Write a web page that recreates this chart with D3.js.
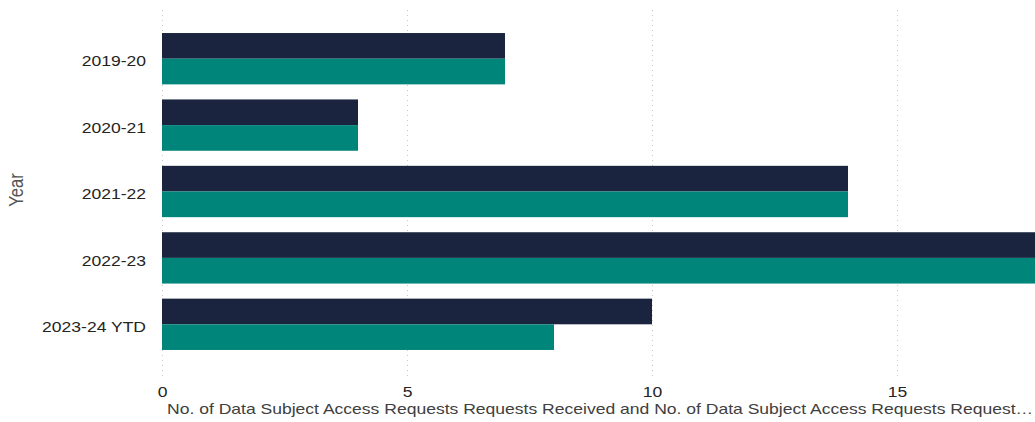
<!DOCTYPE html>
<html>
<head>
<meta charset="utf-8">
<script src="https://cdn.jsdelivr.net/npm/d3@7"></script>
<style>
  html, body { margin: 0; padding: 0; background: #ffffff; }
  svg { display: block; font-family: "Liberation Sans", Arial, sans-serif; }
</style>
</head>
<body>
<svg id="chart" width="1035" height="422"></svg>
<script>
// Financial years shown on the category axis
const years = ["2019-20", "2020-21", "2021-22", "2022-23", "2023-24 YTD"];

// Series values per year
const received = [7, 4, 14, 18, 10];
const completed = [7, 4, 14, 18, 8];

const seriesNames = [
  "No. of Data Subject Access Requests Requests Received",
  "No. of Data Subject Access Requests Requests Completed"
];
const seriesColors = ["#1a243e", "#00857a"];

// Tick values along the value axis
const xTicks = [0, 5, 10, 15];

const axisTitleX = "No. of Data Subject Access Requests Requests Received and No. of Data Subject Access Requests Request\u2026";
const axisTitleY = "Year";

const W = 1035, H = 422;
const plotLeft = 162, plotRight = 1035, gridTop = 10, gridBottom = 380;
const fontSize = "14.5px";
const stretch = 1.21; // text is drawn slightly widened

const svg = d3.select("#chart");

const x = d3.scaleLinear().domain([0, 5]).range([plotLeft, 407]);

const y = d3.scaleBand()
  .domain(years)
  .range([25.5, 357.5])
  .paddingInner(0.227)
  .paddingOuter(0.1135);

const ySeries = d3.scaleBand()
  .domain(d3.range(seriesNames.length))
  .range([0, y.bandwidth()]);

// Dotted vertical gridlines
svg.append("g")
  .selectAll("line")
  .data(xTicks)
  .join("line")
  .attr("x1", d => x(d) + 0.5)
  .attr("x2", d => x(d) + 0.5)
  .attr("y1", gridTop)
  .attr("y2", gridBottom)
  .attr("stroke", "#c8c8c8")
  .attr("stroke-width", 1)
  .attr("stroke-dasharray", "1,4");

// Clip bars to the plot area
svg.append("defs").append("clipPath").attr("id", "plotClip")
  .append("rect")
  .attr("x", plotLeft).attr("y", 0)
  .attr("width", plotRight - plotLeft).attr("height", H);

const seriesData = [received, completed];

const bars = svg.append("g").attr("clip-path", "url(#plotClip)");
seriesData.forEach((vals, si) => {
  bars.append("g")
    .selectAll("rect")
    .data(years.map((yr, i) => ({ yr, v: vals[i] })))
    .join("rect")
    .attr("x", x(0))
    .attr("y", d => y(d.yr) + ySeries(si))
    .attr("width", d => x(d.v) - x(0))
    .attr("height", ySeries.bandwidth())
    .attr("fill", seriesColors[si]);
});

// Category axis labels
const yAxis = d3.axisLeft(y).tickSize(0).tickPadding(0);
const yg = svg.append("g").attr("transform", `translate(${plotLeft},0)`).call(yAxis);
yg.select(".domain").remove();
yg.attr("font-size", null).attr("font-family", null);
yg.selectAll("text")
  .attr("x", 0)
  .attr("transform", `translate(-16,3) scale(${stretch},1)`)
  .attr("fill", "#252423")
  .style("font-size", fontSize);

// Value axis labels
const xAxis = d3.axisBottom(x).tickValues(xTicks).tickFormat(d3.format("d")).tickSize(0).tickPadding(0);
const xg = svg.append("g").attr("transform", `translate(0,397)`).call(xAxis);
xg.select(".domain").remove();
xg.attr("font-size", null).attr("font-family", null);
xg.selectAll("text")
  .attr("y", 0)
  .attr("dy", null)
  .attr("transform", `scale(${stretch},1)`)
  .attr("fill", "#252423")
  .style("font-size", fontSize);

// Axis titles
svg.append("text")
  .attr("transform", `translate(167,414) scale(${stretch},1)`)
  .attr("fill", "#404040")
  .style("font-size", fontSize)
  .text(axisTitleX);

svg.append("text")
  .attr("transform", `translate(23,190) scale(${stretch},1) rotate(-90)`)
  .attr("text-anchor", "middle")
  .attr("fill", "#555555")
  .style("font-size", "16.5px")
  .text(axisTitleY);
</script>
</body>
</html>
